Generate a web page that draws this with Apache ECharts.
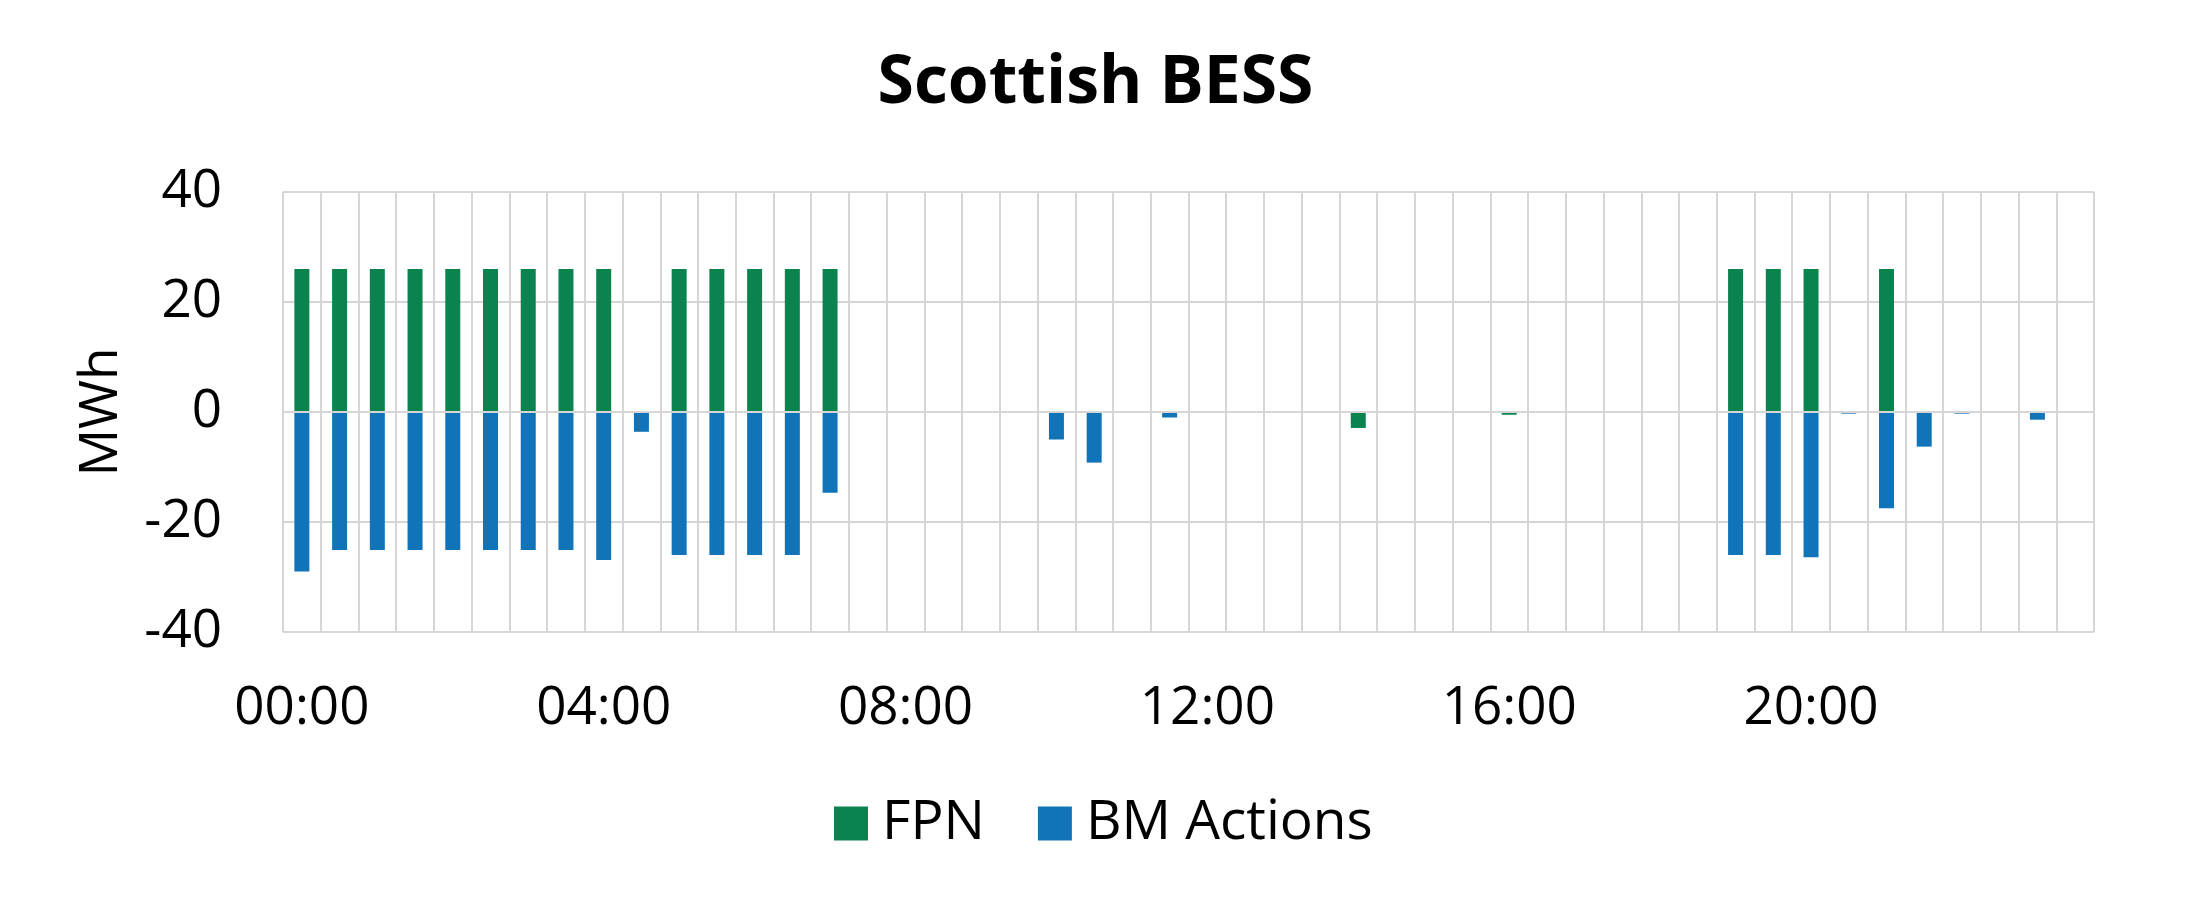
<!DOCTYPE html>
<html>
<head>
<meta charset="utf-8">
<script src="https://cdn.jsdelivr.net/npm/echarts@6/dist/echarts.min.js"></script>
<style>
html,body{margin:0;padding:0;background:#fff;}
#chart{width:2191px;height:905px;}
</style>
</head>
<body>
<div id="chart"></div>
<script>
const categories = [
  "00:00","00:30","01:00","01:30","02:00","02:30","03:00","03:30",
  "04:00","04:30","05:00","05:30","06:00","06:30","07:00","07:30",
  "08:00","08:30","09:00","09:30","10:00","10:30","11:00","11:30",
  "12:00","12:30","13:00","13:30","14:00","14:30","15:00","15:30",
  "16:00","16:30","17:00","17:30","18:00","18:30","19:00","19:30",
  "20:00","20:30","21:00","21:30","22:00","22:30","23:00","23:30"
];
const fpn = [
  26, 26, 26, 26, 26, 26, 26, 26,
  26, null, 26, 26, 26, 26, 26, null,
  null, null, null, null, null, null, null, null,
  null, null, null, null, -2.9, null, null, null,
  -0.5, null, null, null, null, null, 26, 26,
  26, null, 26, null, null, null, null, null
];
const bmActions = [
  -29.0, -25.1, -25.1, -25.1, -25.1, -25.1, -25.1, -25.1,
  -26.9, -3.6, -26.0, -26.0, -26.0, -26.0, -14.7, null,
  null, null, null, null, -5.0, -9.2, null, -1.0,
  null, null, null, null, null, null, null, null,
  null, null, null, null, null, null, -26.0, -26.0,
  -26.4, -0.3, -17.5, -6.3, -0.3, null, -1.4, null
];
const yTicks = { min: -40, max: 40, interval: 20 };

const FONT = "'Open Sans', 'Noto Sans', sans-serif";
const chart = echarts.init(document.getElementById('chart'), null, { renderer: 'canvas' });
chart.setOption({
  backgroundColor: '#ffffff',
  animation: false,
  title: {
    text: 'Scottish BESS',
    left: 'center',
    top: 46,
    textStyle: { fontFamily: FONT, fontWeight: 'bold', fontSize: 66, color: '#000' }
  },
  legend: {
    bottom: 49,
    left: 829,
    itemWidth: 34,
    itemHeight: 34,
    itemGap: 53,
    icon: 'rect',
    textStyle: { fontFamily: FONT, fontSize: 55, color: '#000', padding: [0, 0, 0, 9] },
    data: ['FPN', 'BM Actions']
  },
  grid: { left: 283, right: 97, top: 192, bottom: 273, containLabel: false },
  xAxis: {
    type: 'category',
    data: categories,
    boundaryGap: true,
    axisLine: { show: false, onZero: false },
    axisTick: { show: false },
    axisLabel: { interval: 7, margin: 50, fontFamily: FONT, fontSize: 53, color: '#000' },
    splitLine: { show: true, interval: 0, lineStyle: { color: '#d6d6d6', width: 2 } }
  },
  yAxis: {
    type: 'value',
    min: yTicks.min,
    max: yTicks.max,
    interval: yTicks.interval,
    name: 'MWh',
    nameLocation: 'middle',
    nameGap: 155,
    nameMoveOverlap: false,
    nameTextStyle: { fontFamily: FONT, fontSize: 53, color: '#000' },
    axisLine: { show: false },
    axisTick: { show: false },
    axisLabel: { margin: 61, fontFamily: FONT, fontSize: 53, color: '#000' },
    splitLine: { show: true, lineStyle: { color: '#d6d6d6', width: 2 } }
  },
  series: [
    {
      name: 'FPN',
      type: 'bar',
      data: fpn,
      barWidth: 15,
      barGap: '-100%',
      itemStyle: { color: '#0b834f' }
    },
    {
      name: 'BM Actions',
      type: 'bar',
      data: bmActions,
      barWidth: 15,
      barGap: '-100%',
      itemStyle: { color: '#1174b9' },
      markLine: {
        silent: true,
        symbol: 'none',
        label: { show: false },
        lineStyle: { color: '#d6d6d6', width: 2, type: 'solid' },
        data: [{ yAxis: 0 }]
      }
    }
  ]
});
</script>
</body>
</html>
